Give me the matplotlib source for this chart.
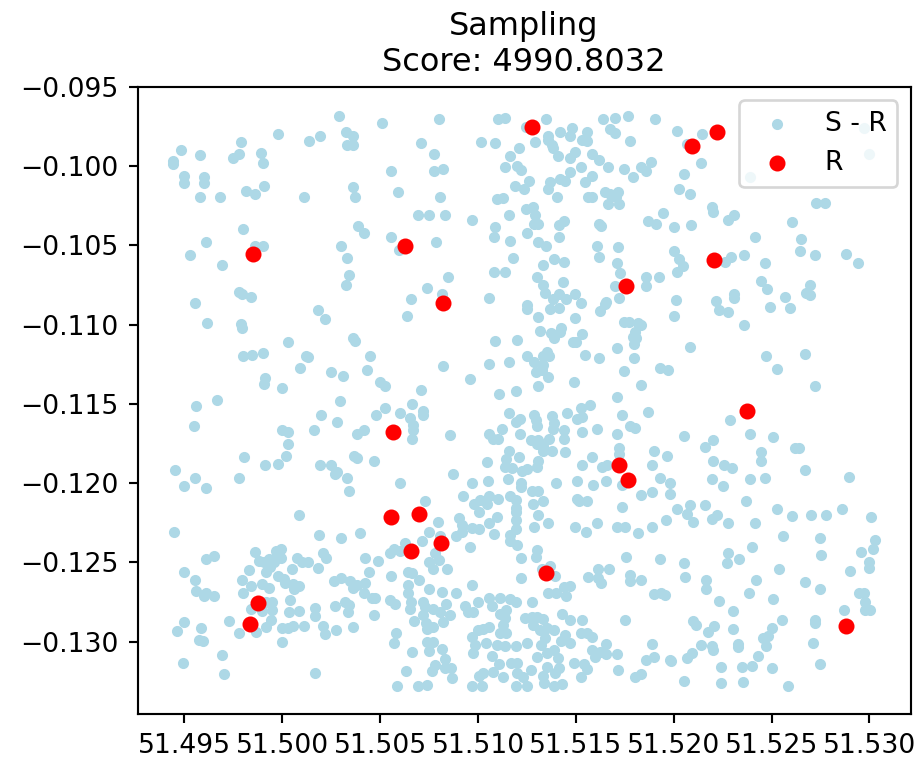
import matplotlib
matplotlib.use("Agg")
import matplotlib.pyplot as plt

# (lon, lat) of the remaining points
s_points = [
    (51.50289,-0.09685),(51.5051,-0.09725),(51.49979,-0.09794),(51.50194,-0.09811),(51.50136,-0.09838),
    (51.50323,-0.09786),(51.5036,-0.09809),(51.50333,-0.09866),(51.5036,-0.09866),(51.49789,-0.09845),
    (51.4948,-0.09895),(51.4958,-0.09929),(51.49777,-0.0992),(51.4975,-0.0995),(51.49889,-0.09914),
    (51.49903,-0.09979),(51.4944,-0.09968),(51.4944,-0.09987),(51.495,-0.10061),(51.495,-0.10105),
    (51.49602,-0.10069),(51.496,-0.10107),(51.4958,-0.10193),(51.4968,-0.10193),(51.49813,-0.10158),
    (51.4986,-0.10172),(51.49905,-0.10122),(51.5011,-0.10197),(51.50359,-0.1013),(51.50369,-0.10193),
    (51.50554,-0.10032),(51.50593,-0.1016),(51.50386,-0.10374),(51.50415,-0.1042),(51.50554,-0.10449),
    (51.49799,-0.10397),(51.49612,-0.10481),(51.49527,-0.10559),(51.4969,-0.10624),(51.49859,-0.10502),
    (51.49901,-0.10502),(51.50299,-0.10504),(51.5033,-0.10582),(51.5034,-0.10687),(51.50323,-0.10752),
    (51.49779,-0.10794),(51.49796,-0.10806),(51.49838,-0.10823),(51.49556,-0.10863),(51.50594,-0.1053),
    (51.50799,-0.09704),(51.511,-0.09704),(51.51138,-0.09693),(51.51347,-0.097),(51.51245,-0.09754),
    (51.51637,-0.097),(51.51699,-0.09695),(51.51768,-0.09685),(51.51903,-0.097),(51.51479,-0.09756),
    (51.51418,-0.09784),(51.51559,-0.09784),(51.51471,-0.09811),(51.51359,-0.09809),(51.51676,-0.09767),
    (51.517,-0.09788),(51.51775,-0.09838),(51.51529,-0.09834),(51.51556,-0.09838),(51.51359,-0.09836),
    (51.51376,-0.09863),(51.51381,-0.09885),(51.50709,-0.09855),(51.51017,-0.09849),(51.51088,-0.09853),
    (51.51289,-0.09849),(51.51211,-0.09887),(51.51165,-0.09933),(51.50777,-0.09922),(51.5141,-0.09933),
    (51.51498,-0.09908),(51.51471,-0.0995),(51.5158,-0.0992),(51.51619,-0.09962),(51.51665,-0.10004),
    (51.51886,-0.09971),(51.51831,-0.10004),(51.51858,-0.10032),(51.51744,-0.10017),(51.5179,-0.10069),
    (51.51527,-0.10004),(51.51472,-0.10038),(51.51583,-0.10061),(51.51549,-0.10097),(51.5082,-0.10015),
    (51.50777,-0.10032),(51.51138,-0.10004),(51.51199,-0.09996),(51.51221,-0.10025),(51.51258,-0.10092),
    (51.51189,-0.10126),(51.51234,-0.10141),(51.5142,-0.10082),(51.51445,-0.10095),(51.51369,-0.10101),
    (51.5136,-0.10143),(51.51403,-0.10197),(51.50804,-0.10197),(51.51098,-0.10204),(51.51129,-0.10202),
    (51.51564,-0.10195),(51.51585,-0.10197),(51.51648,-0.10164),(51.51673,-0.10172),(51.51716,-0.1016),
    (51.51704,-0.10197),(51.51666,-0.10239),(51.51722,-0.10239),(51.51945,-0.10292),(51.51867,-0.10344),
    (51.51909,-0.10365),(51.51279,-0.10254),(51.51245,-0.10267),(51.51291,-0.10307),(51.5116,-0.10305),
    (51.50694,-0.10309),(51.5075,-0.10305),(51.50833,-0.10309),(51.50971,-0.10338),(51.51088,-0.10382),
    (51.51083,-0.10447),(51.51163,-0.1047),(51.51248,-0.1042),(51.51287,-0.10363),(51.51306,-0.10365),
    (51.51437,-0.10347),(51.51415,-0.10368),(51.51416,-0.10447),(51.51306,-0.10475),(51.51345,-0.10502),
    (51.51617,-0.10363),(51.51627,-0.10376),(51.5161,-0.10502),(51.51717,-0.1051),(51.50784,-0.10479),
    (51.51178,-0.10578),(51.51387,-0.10586),(51.51438,-0.10603),(51.5133,-0.10626),(51.51619,-0.10573),
    (51.5171,-0.10611),(51.51724,-0.10672),(51.51083,-0.10668),(51.51138,-0.10668),(51.50849,-0.10701),
    (51.5074,-0.10767),(51.51299,-0.10701),(51.51333,-0.1075),(51.51343,-0.10798),(51.51435,-0.10733),
    (51.51415,-0.10809),(51.51498,-0.10809),(51.51858,-0.10697),(51.51858,-0.10754),(51.51926,-0.10699),
    (51.51699,-0.10754),(51.50816,-0.10806),(51.5066,-0.1084),(51.51054,-0.10834),(51.51384,-0.1084),
    (51.51452,-0.1084),(51.51653,-0.10855),(51.51721,-0.10834),
    (51.52019,-0.09775),(51.52145,-0.09798),(51.52066,-0.09861),(51.52138,-0.09977),(51.52053,-0.10046),
    (51.52029,-0.10143),(51.52083,-0.10172),(51.52194,-0.10258),(51.52202,-0.10288),(51.52308,-0.10309),
    (51.52277,-0.10338),(51.5209,-0.10372),(51.52,-0.10384),(51.52,-0.10533),(51.52029,-0.10586),
    (51.52049,-0.10632),(51.52017,-0.10668),(51.52262,-0.10603),(51.52291,-0.10575),(51.5236,-0.10563),
    (51.52417,-0.10447),(51.52469,-0.10613),(51.52444,-0.10725),(51.52479,-0.10773),(51.52306,-0.10809),
    (51.52306,-0.10834),(51.52216,-0.10848),(51.52012,-0.10844),(51.5257,-0.10823),(51.52604,-0.10349),
    (51.52649,-0.10458),(51.52646,-0.10533),(51.52723,-0.10559),(51.52881,-0.10552),(51.52944,-0.10613),
    (51.52729,-0.10233),(51.52775,-0.10229),(51.52996,-0.0992),(51.52971,-0.09756),(51.52388,-0.10069),
    (51.52695,-0.1075),(51.52678,-0.10802),(51.52699,-0.10813),
    (51.49617,-0.1099),(51.5018,-0.1091),(51.50219,-0.10962),(51.49787,-0.10996),(51.49796,-0.11023),
    (51.5036,-0.11084),(51.5037,-0.11103),(51.50027,-0.11111),(51.499,-0.11179),(51.49845,-0.11191),
    (51.49801,-0.112),(51.50121,-0.11195),(51.50132,-0.11202),(51.50449,-0.112),(51.5009,-0.11271),
    (51.5025,-0.113),(51.50309,-0.11321),(51.50433,-0.11284),(51.50498,-0.11361),(51.50527,-0.11389),
    (51.4991,-0.11338),(51.49906,-0.11372),(51.5,-0.11399),(51.50297,-0.11481),(51.49667,-0.11473),
    (51.49561,-0.11512),(51.49549,-0.11638),(51.50199,-0.11569),(51.50277,-0.11611),(51.50527,-0.11527),
    (51.50479,-0.11569),(51.50602,-0.11557),(51.5,-0.11666),(51.5003,-0.11678),(51.5016,-0.11666),
    (51.50418,-0.11666),(51.50384,-0.11689),(51.50027,-0.1175),(51.5002,-0.1183),(51.49979,-0.11878),
    (51.4991,-0.11888),(51.49806,-0.11832),(51.4945,-0.11918),(51.49556,-0.1197),(51.495,-0.12019),
    (51.49612,-0.12027),(51.49777,-0.1197),(51.50194,-0.11886),(51.5025,-0.11886),(51.50279,-0.11926),
    (51.50267,-0.11939),(51.5033,-0.11968),(51.5034,-0.1205),(51.50367,-0.11827),(51.50381,-0.11842),
    (51.50471,-0.11859),(51.50602,-0.11998),
    (51.50638,-0.10945),(51.51248,-0.10874),(51.51248,-0.10901),(51.51308,-0.10952),(51.51369,-0.10901),
    (51.51416,-0.10895),(51.51527,-0.10863),(51.51498,-0.1096),(51.51651,-0.10868),(51.51625,-0.10912),
    (51.52,-0.10945),(51.51748,-0.10983),(51.51772,-0.10983),(51.51818,-0.1099),(51.51833,-0.11002),
    (51.51801,-0.11048),(51.51792,-0.1108),(51.51806,-0.11084),(51.51795,-0.1112),(51.51319,-0.11042),
    (51.51374,-0.11053),(51.51387,-0.11084),(51.51425,-0.11021),(51.51418,-0.11046),(51.51529,-0.11059),
    (51.51486,-0.11111),(51.51503,-0.11111),(51.51088,-0.11101),(51.51199,-0.11099),(51.51709,-0.11149),
    (51.51549,-0.11191),(51.51619,-0.11212),(51.51795,-0.11212),(51.5135,-0.1117),(51.51362,-0.11195),
    (51.5133,-0.11195),(51.51248,-0.112),(51.51287,-0.11237),(51.5133,-0.11252),(51.51328,-0.11284),
    (51.51296,-0.11298),(51.51359,-0.11332),(51.51309,-0.11389),(51.51054,-0.11248),(51.5116,-0.11237),
    (51.5082,-0.1126),(51.50961,-0.1134),(51.51109,-0.11439),(51.51194,-0.11416),(51.51493,-0.11359),
    (51.51748,-0.11292),(51.51835,-0.11382),(51.51928,-0.11271),(51.5197,-0.11288),(51.5171,-0.11458),
    (51.51869,-0.11548),(51.51738,-0.11571),(51.51775,-0.11636),(51.51801,-0.11651),(51.51709,-0.11691),
    (51.50709,-0.11409),(51.50665,-0.115),(51.50719,-0.11546),(51.50719,-0.11567),(51.5065,-0.11588),
    (51.50667,-0.1163),(51.50667,-0.11662),(51.50665,-0.1172),(51.50859,-0.11693),(51.51156,-0.11559),
    (51.51214,-0.11592),(51.51192,-0.11611),(51.51287,-0.11571),(51.51296,-0.11599),(51.51302,-0.1164),
    (51.51379,-0.11578),(51.51387,-0.1162),(51.51384,-0.11657),(51.51457,-0.11554),(51.51525,-0.11525),
    (51.51573,-0.11504),(51.51508,-0.11592),(51.51529,-0.11582),(51.51529,-0.11678),(51.51608,-0.11657),
    (51.51121,-0.11655),(51.51058,-0.11689),(51.51078,-0.1172),(51.51104,-0.1172),(51.51216,-0.11689),
    (51.51272,-0.11725),(51.51308,-0.11725),(51.51362,-0.1172),(51.51437,-0.11666),(51.5144,-0.1172),
    (51.51299,-0.1175),(51.51333,-0.11762),(51.51333,-0.11796),(51.51377,-0.11794),(51.51442,-0.11804),
    (51.5116,-0.11798),(51.51141,-0.11846),(51.51211,-0.11836),(51.51047,-0.11869),(51.51139,-0.11897),
    (51.51175,-0.11907),(51.5125,-0.11913),(51.51226,-0.11924),(51.51304,-0.11859),(51.51299,-0.11897),
    (51.51155,-0.11972),(51.51049,-0.11987),(51.50969,-0.11998),(51.50874,-0.11939),(51.51221,-0.11998),
    (51.51221,-0.12023),(51.51398,-0.11998),(51.51508,-0.11989),(51.51588,-0.12008),(51.51656,-0.11985),
    (51.51529,-0.11888),(51.51581,-0.11832),(51.51636,-0.11899),(51.51659,-0.11886),(51.51721,-0.11777),
    (51.51721,-0.11813),(51.51738,-0.12008),(51.51897,-0.11798),(51.51887,-0.11886),(51.51967,-0.1183),
    (51.51928,-0.11968),(51.51979,-0.11998),(51.51887,-0.12054),(51.51835,-0.12075),(51.51979,-0.12065),
    (51.51734,-0.12149),(51.51506,-0.12098),(51.51517,-0.12113),(51.51556,-0.12109),(51.51274,-0.1205),
    (51.51308,-0.1205),(51.51333,-0.12109),(51.51279,-0.12128),(51.51166,-0.12082),(51.51194,-0.12107),
    (51.51194,-0.12155),(51.511,-0.12098),(51.51054,-0.12082),(51.5101,-0.12103),(51.50979,-0.12128),
    (51.51047,-0.12134),(51.50922,-0.12082),(51.5073,-0.12115),
    (51.5223,-0.1091),(51.52277,-0.10918),(51.52491,-0.10889),(51.52593,-0.10893),(51.5236,-0.11),
    (51.52083,-0.11139),(51.52471,-0.11195),(51.5267,-0.11185),(51.52527,-0.11277),(51.52721,-0.11389),
    (51.52289,-0.11599),(51.52391,-0.11689),(51.52508,-0.1171),(51.52054,-0.11701),(51.52199,-0.11729),
    (51.5216,-0.11769),(51.52444,-0.11804),(51.52444,-0.11861),(51.52619,-0.11779),(51.52639,-0.11779),
    (51.52199,-0.11859),(51.52258,-0.11888),(51.52299,-0.11903),(51.52194,-0.11972),(51.52388,-0.11972),
    (51.52469,-0.11968),(51.5267,-0.11918),(51.52898,-0.11962),(51.5225,-0.12019),(51.52369,-0.12109),
    (51.5216,-0.12138),(51.52083,-0.12138),(51.52015,-0.12161),(51.52527,-0.12161),(51.5286,-0.12161),
    (51.50083,-0.12198),(51.49444,-0.12309),(51.5019,-0.12324),(51.50299,-0.12345),(51.50398,-0.12315),
    (51.49653,-0.12456),(51.49612,-0.12481),(51.49859,-0.12433),(51.49879,-0.1249),(51.49905,-0.12496),
    (51.4993,-0.12475),(51.49969,-0.12427),(51.49993,-0.12412),(51.49973,-0.12464),(51.49956,-0.12496),
    (51.49993,-0.12471),(51.49939,-0.12527),(51.49917,-0.12561),(51.50075,-0.12469),(51.501,-0.125),
    (51.50129,-0.12496),(51.50206,-0.12443),(51.50224,-0.12469),(51.5018,-0.12532),(51.5042,-0.12473),
    (51.50488,-0.12492),(51.50551,-0.12443),(51.50571,-0.12412),(51.50602,-0.12427),(51.495,-0.12563),
    (51.49556,-0.12613),(51.49561,-0.12681),(51.49609,-0.12695),(51.49599,-0.12714),(51.4965,-0.12712),
    (51.49832,-0.12546),(51.49794,-0.12613),(51.4984,-0.12649),(51.49801,-0.12695),(51.49898,-0.12637),
    (51.49932,-0.12664),(51.49976,-0.12584),(51.50007,-0.12607),(51.50015,-0.12628),(51.50053,-0.12637),
    (51.50087,-0.12647),(51.50058,-0.12666),(51.50049,-0.12542),(51.50265,-0.12616),(51.50301,-0.12597),
    (51.50347,-0.12616),(51.5036,-0.12664),(51.50381,-0.12643),(51.50425,-0.12632),(51.50415,-0.12695),
    (51.50442,-0.12559),(51.50556,-0.12584),(51.50457,-0.12721),(51.50474,-0.12725),(51.50321,-0.1275),
    (51.50343,-0.12769),(51.50338,-0.12811),(51.5027,-0.12773),(51.50041,-0.12735),(51.50168,-0.12788),
    (51.50165,-0.12836),(51.50083,-0.12807),(51.50036,-0.12815),(51.49947,-0.12748),(51.49947,-0.128),
    (51.49918,-0.12748),(51.4984,-0.12792),(51.49896,-0.12807),(51.49942,-0.12863),(51.49918,-0.1291),
    (51.49864,-0.12937),(51.4973,-0.12872),(51.49777,-0.12945),(51.495,-0.12874),(51.49461,-0.1293),
    (51.49583,-0.12916),(51.49573,-0.12991),(51.49595,-0.12994),(51.49694,-0.13084),(51.49701,-0.13201),
    (51.4949,-0.13132),(51.50165,-0.13195),(51.5,-0.12912),(51.50027,-0.12912),(51.50053,-0.12903),
    (51.50109,-0.12901),(51.50206,-0.12901),(51.50219,-0.12949),(51.50275,-0.12924),(51.5036,-0.1291),
    (51.50471,-0.12832),(51.50551,-0.12739),(51.50578,-0.12763),(51.5058,-0.12945),(51.50573,-0.13006),
    (51.5,-0.13002),(51.50585,-0.13279),
    (51.50798,-0.12244),(51.50747,-0.12307),(51.50713,-0.12364),(51.50628,-0.1238),(51.50806,-0.12334),
    (51.50781,-0.12443),(51.50803,-0.12485),(51.50752,-0.12496),(51.50772,-0.12538),(51.5084,-0.12538),
    (51.50905,-0.12217),(51.50917,-0.12265),(51.50917,-0.12307),(51.50888,-0.12334),(51.50968,-0.12282),
    (51.51007,-0.1229),(51.51007,-0.12181),(51.51054,-0.12254),(51.51099,-0.12212),(51.5108,-0.12322),
    (51.50959,-0.12401),(51.51194,-0.12181),(51.51196,-0.12233),(51.51196,-0.12286),(51.51163,-0.12328),
    (51.51163,-0.12364),(51.51197,-0.12391),(51.51219,-0.12473),(51.51287,-0.12279),(51.51359,-0.12254),
    (51.51304,-0.122),(51.51299,-0.12422),(51.51298,-0.12464),(51.51367,-0.12523),(51.51325,-0.12538),
    (51.51219,-0.12601),(51.51393,-0.12586),(51.51498,-0.12279),(51.51554,-0.12307),(51.5161,-0.12254),
    (51.51711,-0.12279),(51.51753,-0.12279),(51.51818,-0.12313),(51.51887,-0.12279),(51.51962,-0.12229),
    (51.51755,-0.12464),(51.51928,-0.12481),(51.51614,-0.1254),(51.5167,-0.12542),(51.51564,-0.1259),
    (51.51614,-0.12601),(51.51631,-0.12632),(51.51775,-0.1258),(51.51775,-0.12616),(51.51831,-0.12613),
    (51.51898,-0.12702),(51.51937,-0.12695),(51.51954,-0.12706),(51.51469,-0.12649),(51.51439,-0.12653),
    (51.5136,-0.12695),(51.51401,-0.12695),(51.51452,-0.12712),(51.51277,-0.1275),(51.51163,-0.12733),
    (51.51196,-0.12752),(51.51112,-0.12725),(51.51054,-0.12723),(51.5107,-0.12775),(51.50998,-0.1275),
    (51.50935,-0.12775),(51.50951,-0.12811),(51.50976,-0.12815),(51.50888,-0.12695),(51.50818,-0.12689),
    (51.5075,-0.12668),(51.50971,-0.12641),(51.50696,-0.12611),(51.5064,-0.12563),(51.50662,-0.12565),
    (51.5064,-0.12639),(51.5064,-0.12695),(51.50658,-0.12748),(51.5065,-0.12794),(51.50675,-0.1287),
    (51.50721,-0.12748),(51.5073,-0.12779),(51.50772,-0.12796),(51.50837,-0.12763),(51.50806,-0.12811),
    (51.50857,-0.12832),(51.5082,-0.12874),(51.50718,-0.12832),(51.50735,-0.12884),(51.50769,-0.12905),
    (51.50738,-0.12922),(51.50772,-0.13),(51.50738,-0.13004),(51.50752,-0.13057),(51.50815,-0.13046),
    (51.50662,-0.13063),(51.50832,-0.13109),(51.50832,-0.13168),(51.50861,-0.13168),(51.50867,-0.1323),
    (51.50781,-0.13147),(51.50767,-0.13185),(51.50633,-0.13185),(51.50738,-0.13273),(51.50694,-0.13277),
    (51.50971,-0.13277),(51.5102,-0.13277),(51.51007,-0.13214),(51.51027,-0.13199),(51.51078,-0.13193),
    (51.51129,-0.1322),(51.51109,-0.13141),(51.51167,-0.13136),(51.51197,-0.13132),(51.51197,-0.13199),
    (51.5127,-0.1318),(51.51228,-0.13225),(51.51192,-0.13277),(51.51248,-0.13277),(51.5107,-0.1309),
    (51.50976,-0.13073),(51.50971,-0.12973),(51.50998,-0.12926),(51.51027,-0.1292),(51.51058,-0.1291),
    (51.50985,-0.13021),(51.51041,-0.1301),(51.51095,-0.13023),(51.51138,-0.13025),(51.51194,-0.13027),
    (51.51248,-0.1301),(51.51112,-0.12947),(51.51143,-0.12947),(51.51129,-0.12895),(51.51138,-0.12853),
    (51.51112,-0.12828),(51.51143,-0.128),(51.5124,-0.12849),(51.51274,-0.12842),(51.51299,-0.12842),
    (51.51333,-0.12859),(51.51282,-0.12895),(51.51316,-0.12926),(51.51354,-0.12912),(51.51388,-0.12926),
    (51.51342,-0.12979),(51.51321,-0.13021),(51.51299,-0.13094),(51.5135,-0.13073),(51.51388,-0.13052),
    (51.5141,-0.13105),(51.5135,-0.13157),(51.51415,-0.13168),(51.51393,-0.13199),(51.5133,-0.13214),
    (51.51337,-0.13262),(51.5139,-0.13279),(51.5143,-0.13267),(51.51427,-0.12826),(51.51471,-0.12861),
    (51.5153,-0.12865),(51.51444,-0.12958),(51.51422,-0.12994),(51.51469,-0.1301),(51.51524,-0.12943),
    (51.51559,-0.12947),(51.51585,-0.12968),(51.51656,-0.13015),(51.51585,-0.13052),(51.51622,-0.13063),
    (51.51597,-0.13094),(51.51656,-0.1308),(51.51709,-0.1308),(51.51488,-0.13132),(51.51541,-0.13141),
    (51.51559,-0.13174),(51.51525,-0.13225),(51.51717,-0.13176),(51.51801,-0.1322),(51.51835,-0.13206),
    (51.5186,-0.13115),(51.51898,-0.13099),(51.51889,-0.13012),(51.5175,-0.12861),(51.51979,-0.13115),
    (51.5207,-0.12191),(51.521,-0.12244),(51.52194,-0.12223),(51.52223,-0.12198),(51.52277,-0.12252),
    (51.52417,-0.12252),(51.52602,-0.12204),(51.527,-0.12202),(51.52777,-0.12198),(51.5301,-0.12212),
    (51.52559,-0.12332),(51.5275,-0.12343),(51.5303,-0.12361),(51.53018,-0.12414),(51.52959,-0.12433),
    (51.52755,-0.12454),(51.524,-0.12401),(51.52279,-0.12443),(51.52333,-0.12475),(51.5227,-0.12502),
    (51.52054,-0.12502),(51.5206,-0.12592),(51.52998,-0.125),(51.52998,-0.12532),(51.52899,-0.12553),
    (51.52536,-0.1254),(51.52167,-0.12613),(51.52167,-0.12668),(51.52418,-0.12611),(51.5267,-0.12622),
    (51.5275,-0.12668),(51.52384,-0.12695),(51.5223,-0.12742),(51.52508,-0.12731),(51.52301,-0.12805),
    (51.52945,-0.12695),(51.52971,-0.12693),(51.52979,-0.12752),(51.52979,-0.128),(51.53001,-0.128),
    (51.52869,-0.12802),(51.52721,-0.12863),(51.52721,-0.12884),(51.52551,-0.12861),(51.525,-0.12912),
    (51.52483,-0.12964),(51.52454,-0.12977),(51.52471,-0.13027),(51.5243,-0.1309),(51.524,-0.13151),
    (51.52347,-0.13159),(51.525,-0.13166),(51.52583,-0.13277),(51.52355,-0.13252),(51.5224,-0.1326),
    (51.5224,-0.13162),(51.52054,-0.1325),(51.51986,-0.1312),(51.5207,-0.13105),(51.52092,-0.13069),
    (51.52139,-0.13021),(51.52194,-0.13027),(51.52201,-0.13052),(51.5233,-0.13015),(51.5233,-0.13031),
    (51.52304,-0.12918),(51.52173,-0.12937),(51.52206,-0.12901),(51.521,-0.1287),(51.52112,-0.12893),
    (51.52714,-0.1301),(51.5275,-0.13141),
]

r_lon = [51.4985, 51.50628, 51.51275, 51.51758, 51.52094, 51.52223, 51.52206, 51.50823, 51.52376, 51.50568,
         51.51721, 51.51765, 51.50556, 51.50699, 51.5081, 51.50658, 51.51347, 51.49874, 51.49833, 51.52879]
r_lat = [-0.10552, -0.10502, -0.09754, -0.10754, -0.09874, -0.09784, -0.10594, -0.10863, -0.11544, -0.11674,
         -0.11888, -0.11981, -0.12216, -0.12197, -0.1238, -0.12429, -0.12569, -0.12754, -0.12891, -0.12901]

title = "Sampling\nScore: 4990.8032"

s_lon = [p[0] for p in s_points]
s_lat = [p[1] for p in s_points]

dpi = 192
fig = plt.figure(figsize=(923 / dpi, 760 / dpi), dpi=dpi)
ax = fig.add_axes([137.5 / 923, 46 / 760, 773 / 923, 627 / 760])

ax.scatter(s_lon, s_lat, s=10, c="lightblue", label="S - R")
ax.scatter(r_lon, r_lat, s=25, c="red", label="R")

ax.set_xlim(51.4926, 51.5321)
ax.set_ylim(-0.13456, -0.095)
ax.set_xticks([51.495, 51.5, 51.505, 51.51, 51.515, 51.52, 51.525, 51.53])
ax.set_xticklabels(["51.495", "51.500", "51.505", "51.510", "51.515", "51.520", "51.525", "51.530"])
ax.set_yticks([-0.095, -0.1, -0.105, -0.11, -0.115, -0.12, -0.125, -0.13])
ax.set_title(title)
ax.legend(loc="upper right")

fig.savefig("out.png", dpi=dpi)
